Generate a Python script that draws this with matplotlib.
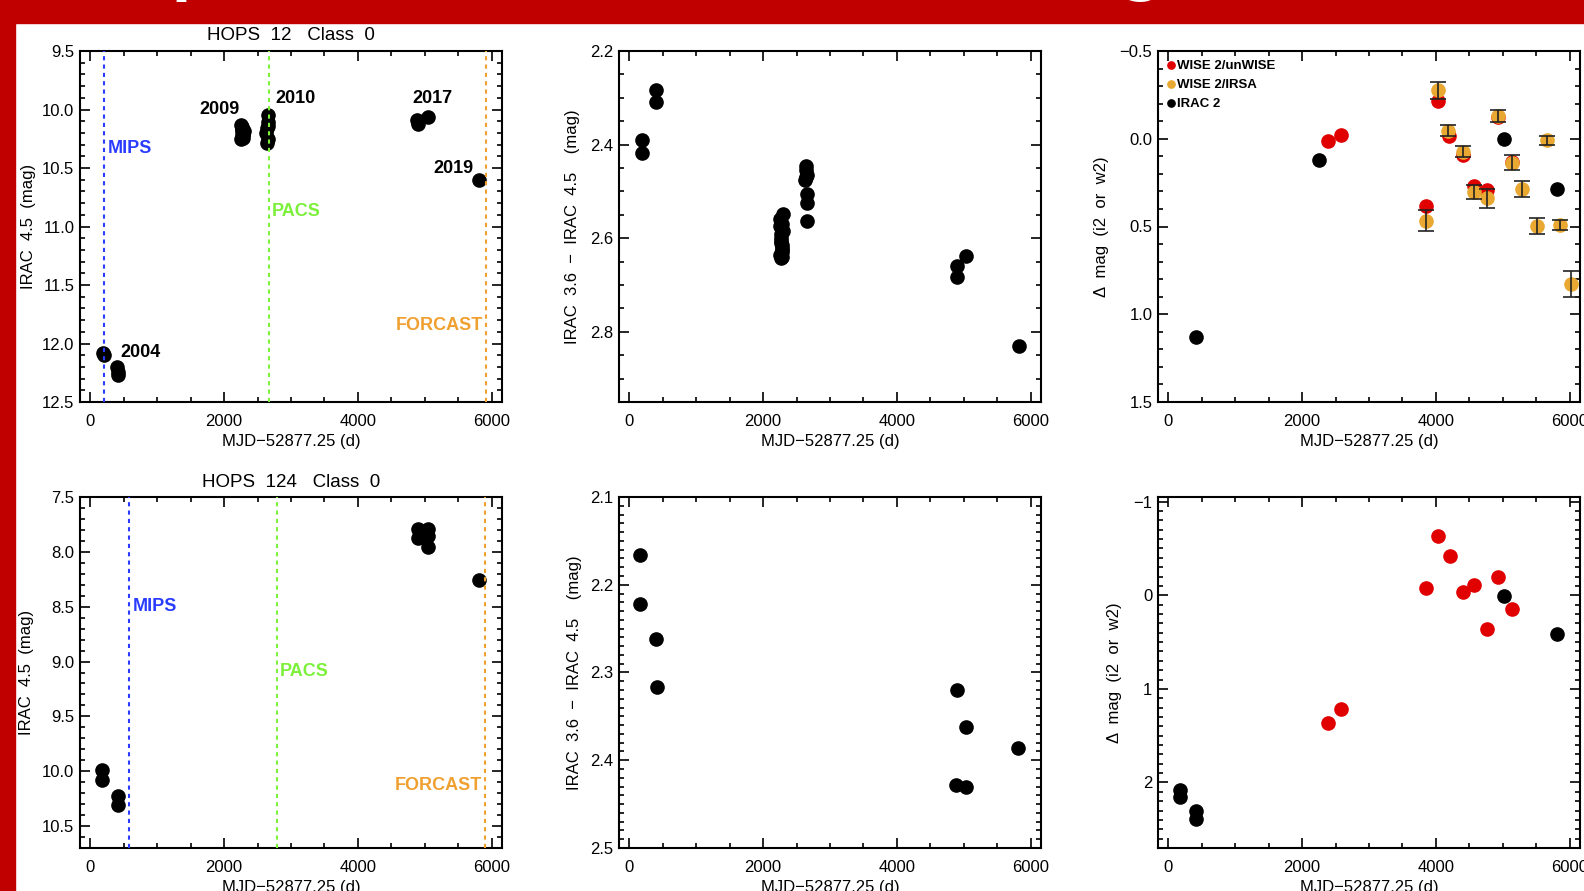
import numpy as np
import matplotlib.pyplot as plt
from matplotlib.patches import Rectangle
from matplotlib.ticker import MultipleLocator, FuncFormatter

plt.rcParams['font.family'] = ['Liberation Sans', 'DejaVu Sans']

# ---------------- data ----------------
# HOPS 12 : IRAC 4.5 light curve
h12_mjd = [195, 205, 405, 410, 415,
           2255, 2265, 2270, 2275, 2280, 2285, 2290, 2260, 2272, 2283, 2295, 2268,
           2630, 2655, 2660, 2645, 2650, 2640, 2658,
           4885, 4895, 5040, 5811]
h12_i2 = [12.08, 12.10, 12.20, 12.24, 12.27,
          10.13, 10.15, 10.17, 10.19, 10.20, 10.22, 10.24, 10.25, 10.16, 10.21, 10.18, 10.23,
          10.20, 10.05, 10.11, 10.16, 10.25, 10.29, 10.14,
          10.09, 10.12, 10.06, 10.60]

# HOPS 12 : IRAC 3.6 - 4.5 colour
h12_col_mjd = [199, 199, 409, 409,
               2250, 2260, 2265, 2270, 2275, 2280, 2285, 2290, 2295, 2300, 2262, 2278, 2288, 2255, 2272, 2283,
               2625, 2636, 2645, 2650, 2640, 2660, 2655, 2650,
               4893, 4893, 5033, 5815]
h12_col = [2.390, 2.417, 2.283, 2.308,
           2.560, 2.575, 2.590, 2.600, 2.610, 2.620, 2.630, 2.640, 2.548, 2.585, 2.605, 2.615, 2.625, 2.635, 2.643, 2.570,
           2.475, 2.446, 2.454, 2.465, 2.470, 2.505, 2.525, 2.564,
           2.660, 2.683, 2.639, 2.830]

# HOPS 12 : delta mag
h12_irac_mjd = [423, 2257, 5021, 5811]
h12_irac_dm = [1.131, 0.123, 0.004, 0.288]
h12_unwise_mjd = [2381, 2580, 3848, 4032, 4200, 4399, 4568, 4757, 4931, 5135]
h12_unwise_dm = [0.013, -0.021, 0.383, -0.214, -0.015, 0.095, 0.269, 0.294, -0.123, 0.131]
h12_irsa_mjd = [3848, 4032, 4181, 4399, 4568, 4757, 4931, 5135, 5289, 5503, 5652, 5851, 6015]
h12_irsa_dm = [0.468, -0.275, -0.047, 0.074, 0.301, 0.339, -0.129, 0.136, 0.284, 0.496, 0.009, 0.492, 0.828]
h12_irsa_err = [0.060, 0.048, 0.030, 0.030, 0.040, 0.054, 0.036, 0.043, 0.046, 0.047, 0.024, 0.028, 0.072]

# HOPS 124
h124_mjd = [174, 174, 423, 413, 4895, 4895, 5044, 5044, 5044, 5811]
h124_i2 = [9.99, 10.08, 10.23, 10.31, 7.79, 7.87, 7.79, 7.86, 7.96, 8.26]
h124_col_mjd = [169, 169, 409, 424, 4893, 5033, 5805, 4883, 5033]
h124_col = [2.166, 2.222, 2.262, 2.316, 2.320, 2.362, 2.386, 2.428, 2.430]
h124_irac_mjd = [174, 174, 423, 413, 5021, 5801]
h124_irac_dm = [2.080, 2.157, 2.307, 2.394, 0.007, 0.418]
h124_unwise_mjd = [2381, 2580, 3848, 4036, 4210, 4399, 4568, 4767, 4931, 5135]
h124_unwise_dm = [1.366, 1.216, -0.073, -0.631, -0.422, -0.035, -0.105, 0.355, -0.192, 0.146]

# epochs of the far-IR observations
h12_epochs = {'MIPS': 210, 'PACS': 2672, 'FORCAST': 5912}
h124_epochs = {'MIPS': 582, 'PACS': 2793, 'FORCAST': 5897}

xlabel = 'MJD\u221252877.25 (d)'
c_mips, c_pacs, c_forc = '#2a3cff', '#7cf03a', '#f0a030'
c_red, c_orange = '#e00000', '#e9a832'

fig = plt.figure(figsize=(15.84, 8.91), dpi=100)

# slide background: red bar on top and left
fig.patches.append(Rectangle((0, 1 - 23 / 891), 1, 23 / 891, transform=fig.transFigure,
                             color='#c00000', zorder=0))
fig.patches.append(Rectangle((0, 0), 15 / 1584, 1, transform=fig.transFigure,
                             color='#c00000', zorder=0))
# only the descenders of the slide title are visible
fig.text(171 / 1584, 1 + 10 / 891, 'p', color='white', fontsize=40, fontweight='bold',
         va='baseline', ha='left', family='DejaVu Sans')
fig.text(1142 / 1584, 1 + 10 / 891, 'g', color='white', fontsize=40, fontweight='bold',
         va='baseline', ha='center', family='DejaVu Sans')

W, H = 1584, 891
def make_ax(l, t, r, b):
    return fig.add_axes([l / W, 1 - b / H, (r - l) / W, (b - t) / H])

def style(ax, ylim, ymaj, ymin, fmt, ylab, ylab_x):
    ax.set_xlim(-150, 6150)
    ax.set_ylim(*ylim)
    ax.xaxis.set_major_locator(MultipleLocator(2000))
    ax.xaxis.set_minor_locator(MultipleLocator(500))
    ax.yaxis.set_major_locator(MultipleLocator(ymaj))
    ax.yaxis.set_minor_locator(MultipleLocator(ymin))
    ax.yaxis.set_major_formatter(FuncFormatter(lambda v, p: (fmt % v).replace('-', '\u2212')))
    ax.tick_params(which='both', direction='in', top=True, right=True, labelsize=12, width=1.2)
    ax.tick_params(which='major', length=7)
    ax.tick_params(which='minor', length=3.5)
    ax.tick_params(axis='x', pad=9)
    ax.tick_params(axis='y', pad=4)
    for s in ax.spines.values():
        s.set_linewidth(1.5)
    ax.set_xlabel(xlabel, fontsize=12)
    ax.xaxis.set_label_coords(0.5, -0.091)
    ax.set_ylabel(ylab, fontsize=12)
    ax.yaxis.set_label_coords(ylab_x, 0.5)

def epochs(ax, ep, ypos):
    for (name, x), c in zip(ep.items(), [c_mips, c_pacs, c_forc]):
        ax.axvline(x, color=c, lw=1.5, ls=(0, (2, 2)), zorder=3)
    ax.text(ep['MIPS'] + 60, ypos[0], 'MIPS', color=c_mips, fontsize=13, fontweight='bold', va='center')
    ax.text(ep['PACS'] + 40, ypos[1], 'PACS', color=c_pacs, fontsize=13, fontweight='bold', va='center')
    ax.text(ep['FORCAST'] - 50, ypos[2], 'FORCAST', color=c_forc, fontsize=13, fontweight='bold',
            va='center', ha='right')

ms = 9.5

# ---- HOPS 12 ----
ax1 = make_ax(80, 51, 502, 402)
epochs(ax1, h12_epochs, [10.33, 10.87, 11.85])
ax1.plot(h12_mjd, h12_i2, 'o', color='black', ms=ms, zorder=2)
for txt, x, y, ha in [('2009', 2240, 10.0, 'right'), ('2010', 2763, 9.905, 'left'),
                      ('2017', 4805, 9.905, 'left'), ('2019', 5726, 10.50, 'right'),
                      ('2004', 458, 12.08, 'left')]:
    ax1.text(x, y, txt, fontsize=13, fontweight='bold', ha=ha, va='center')
style(ax1, (12.5, 9.5), 0.5, 0.1, '%.1f', 'IRAC  4.5  (mag)', -0.105)
ax1.text(0.5, 1.045, 'HOPS  12   Class  0', transform=ax1.transAxes, ha='center', va='center', fontsize=13.5)

ax2 = make_ax(619, 51, 1041, 402)
ax2.plot(h12_col_mjd, h12_col, 'o', color='black', ms=ms)
style(ax2, (2.95, 2.2), 0.2, 0.05, '%.1f', 'IRAC  3.6  \u2212  IRAC  4.5    (mag)', -0.092)

ax3 = make_ax(1158, 51, 1580, 402)
ax3.plot(h12_unwise_mjd, h12_unwise_dm, 'o', color=c_red, ms=ms, label='WISE 2/unWISE', zorder=2)
ax3.plot(h12_irsa_mjd, h12_irsa_dm, 'o', color=c_orange, ms=ms, label='WISE 2/IRSA', zorder=3)
ax3.errorbar(h12_irsa_mjd, h12_irsa_dm, yerr=h12_irsa_err, fmt='none', ecolor='#222222',
             elinewidth=1.2, capsize=6, capthick=1.2, zorder=4)
ax3.plot(h12_irac_mjd, h12_irac_dm, 'o', color='black', ms=ms, label='IRAC 2', zorder=5)
style(ax3, (1.5, -0.5), 0.5, 0.1, '%.1f', '\u0394  mag  (i2  or  w2)', -0.116)
ax3.legend(loc='upper left', frameon=False, prop={'size': 9.5, 'weight': 'bold'},
           handlelength=0.5, handletextpad=0.25, labelspacing=0.5, markerscale=0.55,
           borderaxespad=0.5, borderpad=0.2)

# ---- HOPS 124 ----
ax4 = make_ax(80, 497, 502, 848)
epochs(ax4, h124_epochs, [8.497, 9.088, 10.127])
ax4.plot(h124_mjd, h124_i2, 'o', color='black', ms=ms, zorder=2)
style(ax4, (10.7, 7.5), 0.5, 0.1, '%.1f', 'IRAC  4.5  (mag)', -0.108)
ax4.text(0.5, 1.040, 'HOPS  124   Class  0', transform=ax4.transAxes, ha='center', va='center', fontsize=13.5)

ax5 = make_ax(619, 497, 1041, 848)
ax5.plot(h124_col_mjd, h124_col, 'o', color='black', ms=ms)
style(ax5, (2.5, 2.1), 0.1, 0.01, '%.1f', 'IRAC  3.6  \u2212  IRAC  4.5    (mag)', -0.088)

ax6 = make_ax(1158, 497, 1580, 848)
ax6.plot(h124_unwise_mjd, h124_unwise_dm, 'o', color=c_red, ms=ms, zorder=2)
ax6.plot(h124_irac_mjd, h124_irac_dm, 'o', color='black', ms=ms, zorder=3)
style(ax6, (2.7, -1.05), 1, 0.1, '%d', '\u0394  mag  (i2  or  w2)', -0.085)

fig.savefig('out.png', dpi=100)
